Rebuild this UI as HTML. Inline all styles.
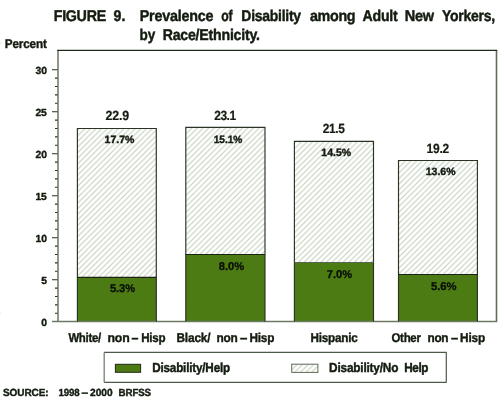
<!DOCTYPE html>
<html><head><meta charset="utf-8">
<style>
html,body{margin:0;padding:0;background:#fff;width:500px;height:398px;overflow:hidden}
svg{position:absolute;left:0;top:0;display:block;will-change:transform}
text{font-family:"Liberation Sans",sans-serif;fill:#141c10;text-rendering:geometricPrecision}
</style></head><body>
<svg width="500" height="398" viewBox="0 0 500 398">
<defs>
<pattern id="h" patternUnits="userSpaceOnUse" width="5.6" height="5.6" x="0.7" y="0">
<path d="M-1.4,1.4 L1.4,-1.4 M0,5.6 L5.6,0 M4.2,7 L7,4.2" stroke="#bfcdb8" stroke-width="1"/>
</pattern>
</defs>
<rect x="77.4" y="128.5" width="78.9" height="192.9" fill="url(#h)"/><rect x="185.8" y="127.4" width="79.2" height="194.0" fill="url(#h)"/><rect x="294.4" y="141.3" width="79.1" height="180.1" fill="url(#h)"/><rect x="398.5" y="160.5" width="78.9" height="160.9" fill="url(#h)"/>
<rect x="77.4" y="277.4" width="78.9" height="44.0" fill="#4b7b12"/><rect x="185.8" y="254.5" width="79.2" height="66.9" fill="#4b7b12"/><rect x="294.4" y="262.5" width="79.1" height="58.9" fill="#4b7b12"/><rect x="398.5" y="274.5" width="78.9" height="46.9" fill="#4b7b12"/>
<path d="M58,321.4 V50.3" fill="none" stroke="#8e9a86" stroke-width="2"/>
<path d="M496.5,50.3 V321.4" fill="none" stroke="#5f6d58" stroke-width="1.6"/>
<path d="M57.2,50.3 H497.2" fill="none" stroke="#1e2a18" stroke-width="1.15"/>
<path d="M52,321.5 H497.2" stroke="#6c7a64" stroke-width="1.6"/>
<g fill="none" stroke="#2a3424" stroke-width="1.15"><path d="M77.4,321.4 V128.5 H156.3 V321.4"/><path d="M185.8,321.4 V127.4 H265 V321.4"/><path d="M294.4,321.4 V141.3 H373.5 V321.4"/><path d="M398.5,321.4 V160.5 H477.4 V321.4"/></g>
<g fill="none" stroke="#1c2316" stroke-width="1.15"><path d="M77.4,277.4 H156.3"/><path d="M185.8,254.5 H265"/><path d="M294.4,262.5 H373.5" stroke="#5a6654"/><path d="M398.5,274.5 H477.4"/></g>
<g stroke="#26301f" stroke-width="1.1"><path d="M55,313.3H57.5M55,304.9H57.5M55,296.5H57.5M55,288.1H57.5M52,279.7H57.5M55,271.3H57.5M55,262.9H57.5M55,254.5H57.5M55,246.1H57.5M52,237.7H57.5M55,229.3H57.5M55,220.9H57.5M55,212.5H57.5M55,204.1H57.5M52,195.7H57.5M55,187.3H57.5M55,178.9H57.5M55,170.5H57.5M55,162.1H57.5M52,153.7H57.5M55,145.3H57.5M55,136.9H57.5M55,128.5H57.5M55,120.1H57.5M52,111.7H57.5M55,103.3H57.5M55,94.9H57.5M55,86.5H57.5M55,78.1H57.5M52,69.7H57.5"/></g>
<path d="M104.2,352.4 V382.3" fill="none" stroke="#7f8a78" stroke-width="1.4"/><path d="M104.2,352.4 H446.3 V382.3 H104.2" fill="none" stroke="#4e5a48" stroke-width="1.2" stroke-linejoin="round"/>
<rect x="115.4" y="364.3" width="25.2" height="8" fill="#4b7b12" stroke="#1f2a1b" stroke-width="1"/>
<rect x="291.7" y="364.2" width="26.2" height="8.2" fill="url(#h)" stroke="#5f6a58" stroke-width="1"/>
<rect x="0" y="42.4" width="1.6" height="1.2" fill="#dde0da"/>
<rect x="0" y="312.6" width="1.2" height="1.2" fill="#e6eae2"/>
<text transform="translate(53.73,20.60) scale(0.9198,1)" font-size="15.5" font-weight="bold" letter-spacing="-0.314" stroke="#141c10" stroke-width="0.45">FIGURE</text>
<text transform="translate(113.58,20.60) scale(0.9153,1)" font-size="15.5" font-weight="bold" stroke="#141c10" stroke-width="0.45">9.</text>
<text transform="translate(139.73,20.60) scale(0.9239,1)" font-size="15.5" font-weight="bold" letter-spacing="-0.233" stroke="#141c10" stroke-width="0.45">Prevalence</text>
<text transform="translate(221.14,20.60) scale(0.7861,1)" font-size="15.5" font-weight="bold" stroke="#141c10" stroke-width="0.45">of</text>
<text transform="translate(241.35,20.60) scale(0.9000,1)" font-size="15.5" font-weight="bold" letter-spacing="-0.282" stroke="#141c10" stroke-width="0.45">Disability</text>
<text transform="translate(309.90,20.60) scale(0.9230,1)" font-size="15.5" font-weight="bold" letter-spacing="-0.327" stroke="#141c10" stroke-width="0.45">among</text>
<text transform="translate(362.60,20.60) scale(0.9122,1)" font-size="15.5" font-weight="bold" letter-spacing="-0.296" stroke="#141c10" stroke-width="0.45">Adult</text>
<text transform="translate(404.72,20.60) scale(0.9362,1)" font-size="15.5" font-weight="bold" letter-spacing="-0.336" stroke="#141c10" stroke-width="0.45">New</text>
<text transform="translate(442.01,20.60) scale(0.9032,1)" font-size="15.5" font-weight="bold" letter-spacing="-0.285" stroke="#141c10" stroke-width="0.45">Yorkers,</text>
<text transform="translate(139.38,39.80) scale(0.8741,1)" font-size="15.5" font-weight="bold" stroke="#141c10" stroke-width="0.45">by</text>
<text transform="translate(162.64,39.80) scale(0.9124,1)" font-size="15.5" font-weight="bold" letter-spacing="-0.232" stroke="#141c10" stroke-width="0.45">Race/Ethnicity.</text>
<text transform="translate(4.77,47.60) scale(0.9319,1)" font-size="12.6" font-weight="bold" letter-spacing="-0.176" stroke="#141c10" stroke-width="0.4">Percent</text>
<text transform="translate(105.51,120.00) scale(0.9355,1)" font-size="13.3" font-weight="bold" letter-spacing="-0.184" stroke="#141c10" stroke-width="0.2">22.9</text>
<text transform="translate(214.13,120.00) scale(0.9000,1)" font-size="13.3" font-weight="bold" letter-spacing="-0.454" stroke="#141c10" stroke-width="0.2">23.1</text>
<text transform="translate(322.73,133.00) scale(0.9000,1)" font-size="13.3" font-weight="bold" letter-spacing="-0.454" stroke="#141c10" stroke-width="0.2">21.5</text>
<text transform="translate(426.55,152.60) scale(0.9037,1)" font-size="13.3" font-weight="bold" letter-spacing="-0.274" stroke="#141c10" stroke-width="0.2">19.2</text>
<text transform="translate(104.54,142.90) scale(1.0008,1)" font-size="10.5" font-weight="bold" letter-spacing="0.002" stroke="#141c10" stroke-width="0.4">17.7%</text>
<text transform="translate(213.77,142.60) scale(0.9670,1)" font-size="10.5" font-weight="bold" letter-spacing="-0.081" stroke="#141c10" stroke-width="0.4">15.1%</text>
<text transform="translate(321.34,155.60) scale(1.0008,1)" font-size="10.5" font-weight="bold" letter-spacing="0.002" stroke="#141c10" stroke-width="0.4">14.5%</text>
<text transform="translate(425.74,174.80) scale(1.0008,1)" font-size="10.5" font-weight="bold" letter-spacing="0.002" stroke="#141c10" stroke-width="0.4">13.6%</text>
<text transform="translate(109.95,292.20) scale(0.9802,1)" font-size="11.3" font-weight="bold" letter-spacing="-0.056" stroke="#0a0d08" stroke-width="0.25" style="fill:#0a0d08">5.3%</text>
<text transform="translate(218.78,269.50) scale(0.9853,1)" font-size="11.3" font-weight="bold" letter-spacing="-0.041" stroke="#0a0d08" stroke-width="0.25" style="fill:#0a0d08">8.0%</text>
<text transform="translate(326.78,277.80) scale(0.9853,1)" font-size="11.3" font-weight="bold" letter-spacing="-0.041" stroke="#0a0d08" stroke-width="0.25" style="fill:#0a0d08">7.0%</text>
<text transform="translate(430.95,289.80) scale(0.9950,1)" font-size="11.3" font-weight="bold" letter-spacing="-0.014" stroke="#0a0d08" stroke-width="0.25" style="fill:#0a0d08">5.6%</text>
<text transform="translate(68.40,341.60) scale(0.9000,1)" font-size="12.7" font-weight="bold" letter-spacing="-0.339" stroke="#141c10" stroke-width="0.4">White/</text>
<text transform="translate(107.43,341.60) scale(0.9702,1)" font-size="12.7" font-weight="bold" letter-spacing="-0.110" stroke="#141c10" stroke-width="0.4">non</text>
<text transform="translate(131.61,341.60) scale(0.9773,1)" font-size="12.7" font-weight="bold" stroke="#141c10" stroke-width="0.4">–</text>
<text transform="translate(141.18,341.60) scale(0.9129,1)" font-size="12.7" font-weight="bold" letter-spacing="-0.263" stroke="#141c10" stroke-width="0.4">Hisp</text>
<text transform="translate(176.46,341.60) scale(0.9324,1)" font-size="12.7" font-weight="bold" letter-spacing="-0.169" stroke="#141c10" stroke-width="0.4">Black/</text>
<text transform="translate(216.46,341.60) scale(0.9353,1)" font-size="12.7" font-weight="bold" letter-spacing="-0.241" stroke="#141c10" stroke-width="0.4">non</text>
<text transform="translate(239.99,341.60) scale(1.0384,1)" font-size="12.7" font-weight="bold" stroke="#141c10" stroke-width="0.4">–</text>
<text transform="translate(249.46,341.60) scale(0.9275,1)" font-size="12.7" font-weight="bold" letter-spacing="-0.217" stroke="#141c10" stroke-width="0.4">Hisp</text>
<text transform="translate(310.47,341.60) scale(0.9204,1)" font-size="12.7" font-weight="bold" letter-spacing="-0.202" stroke="#141c10" stroke-width="0.4">Hispanic</text>
<text transform="translate(391.44,341.60) scale(0.9016,1)" font-size="12.7" font-weight="bold" letter-spacing="-0.282" stroke="#141c10" stroke-width="0.4">Other</text>
<text transform="translate(427.46,341.60) scale(0.9283,1)" font-size="12.7" font-weight="bold" letter-spacing="-0.268" stroke="#141c10" stroke-width="0.4">non</text>
<text transform="translate(451.00,341.60) scale(1.0079,1)" font-size="12.7" font-weight="bold" stroke="#141c10" stroke-width="0.4">–</text>
<text transform="translate(460.06,341.60) scale(0.9334,1)" font-size="12.7" font-weight="bold" letter-spacing="-0.199" stroke="#141c10" stroke-width="0.4">Hisp</text>
<text transform="translate(152.19,372.00) scale(0.9008,1)" font-size="13.0" font-weight="bold" letter-spacing="-0.216" stroke="#141c10" stroke-width="0.45">Disability/Help</text>
<text transform="translate(329.09,372.00) scale(0.9081,1)" font-size="13.0" font-weight="bold" letter-spacing="-0.204" stroke="#141c10" stroke-width="0.45">Disability/No</text>
<text transform="translate(404.29,372.00) scale(0.9000,1)" font-size="13.0" font-weight="bold" letter-spacing="-0.441" stroke="#141c10" stroke-width="0.45">Help</text>
<text transform="translate(2.94,395.60) scale(0.9711,1)" font-size="10.3" font-weight="bold" letter-spacing="-0.075" stroke="#141c10" stroke-width="0.4">SOURCE:</text>
<text transform="translate(58.60,395.60) scale(0.9376,1)" font-size="10.3" font-weight="bold" letter-spacing="-0.156" stroke="#141c10" stroke-width="0.4">1998</text>
<text transform="translate(81.62,395.60) scale(1.1486,1)" font-size="10.3" font-weight="bold" stroke="#141c10" stroke-width="0.4">–</text>
<text transform="translate(90.08,395.60) scale(0.9873,1)" font-size="10.3" font-weight="bold" letter-spacing="-0.031" stroke="#141c10" stroke-width="0.4">2000</text>
<text transform="translate(118.59,395.60) scale(0.9467,1)" font-size="10.3" font-weight="bold" letter-spacing="-0.154" stroke="#141c10" stroke-width="0.4">BRFSS</text>
<text x="41.29" y="325.70" font-size="10.3" font-weight="bold" stroke="#141c10" stroke-width="0.4">0</text>
<text x="41.13" y="283.70" font-size="10.3" font-weight="bold" stroke="#141c10" stroke-width="0.4">5</text>
<text x="35.56" y="241.70" font-size="10.3" font-weight="bold" stroke="#141c10" stroke-width="0.4">10</text>
<text x="35.40" y="199.70" font-size="10.3" font-weight="bold" stroke="#141c10" stroke-width="0.4">15</text>
<text x="35.56" y="157.70" font-size="10.3" font-weight="bold" stroke="#141c10" stroke-width="0.4">20</text>
<text x="35.40" y="115.70" font-size="10.3" font-weight="bold" stroke="#141c10" stroke-width="0.4">25</text>
<text x="35.56" y="73.70" font-size="10.3" font-weight="bold" stroke="#141c10" stroke-width="0.4">30</text>
</svg>
</body></html>
